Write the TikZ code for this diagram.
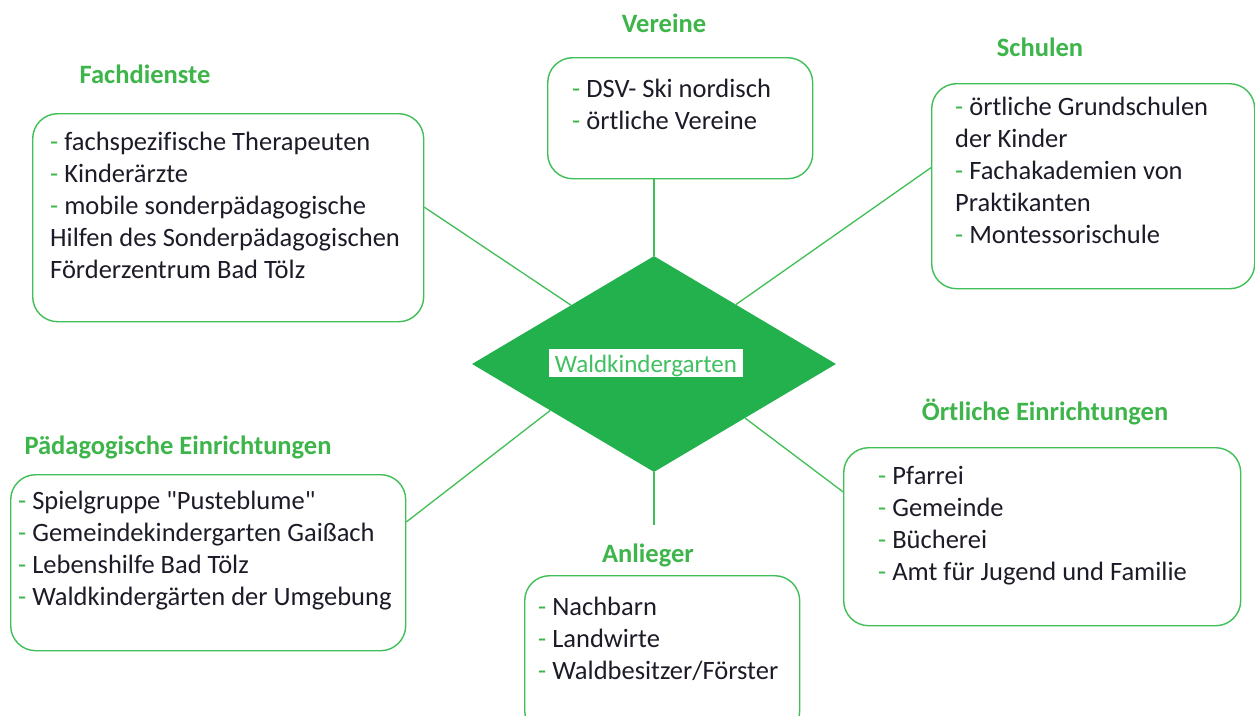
\documentclass[tikz,border=0pt]{standalone}
\usepackage{fontspec}
\setmainfont{Carlito}[Ligatures={CommonOff,TeXOff}]
\usetikzlibrary{shapes.geometric,calc}
\definecolor{dgreen}{HTML}{22B14C}
\definecolor{bgreen}{HTML}{3FBF55}
\definecolor{tgreen}{HTML}{3DB54A}
\definecolor{lgreen}{HTML}{40C060}
\definecolor{txt}{HTML}{1C1C28}
\newcommand\gd{\textcolor{tgreen}{-}}
\tikzset{
  box/.style={draw=bgreen, line width=1.4pt, rounded corners=25pt, minimum width=#1, inner sep=0, anchor=north west},
  listtext/.style={inner sep=0, align=left, anchor=north west, text=txt, font=\fontsize{26.5}{32}\selectfont},
  title/.style={inner sep=0, anchor=base, text=tgreen, font=\fontsize{26.5}{32}\selectfont\bfseries},
  conn/.style={draw=bgreen, line width=1.3pt}
}
\begin{document}
\begin{tikzpicture}[x=1pt,y=-1pt]
\useasboundingbox[fill=white] (0,0) rectangle (1255,715);
% central diamond
\node[diamond, fill=dgreen, minimum width=364pt, minimum height=216pt, inner sep=0] (dia) at (654,364) {};
\node[fill=white, text=lgreen, inner xsep=5.5pt, inner ysep=3pt, text height=20pt, text depth=2pt, anchor=base, font=\fontsize{25}{30}\selectfont] (lab) at (646,372) {Waldkindergarten};
% boxes
\node[box=391pt, minimum height=208pt] (fach) at (32,113) {};
\node[box=265pt, minimum height=121pt] (ver) at (547,57) {};
\node[box=323pt, minimum height=205pt] (sch) at (931,83) {};
\node[box=395pt, minimum height=176pt] (pad) at (10,474) {};
\node[box=275pt, minimum height=160pt] (anl) at (524,575) {};
\node[box=397pt, minimum height=178pt] (ort) at (843,447) {};
% titles
\node[title] (tfach) at (145,83) {Fachdienste};
\node[title] (tver) at (664,32) {Vereine};
\node[title] (tsch) at (1040,56) {Schulen};
\node[title] (tpad) at (178,454) {Pädagogische Einrichtungen};
\node[title] (tanl) at (648,562) {Anlieger};
\node[title] (tort) at (1045,420) {Örtliche Einrichtungen};
% list texts
\node[listtext] (lfach) at (50,128) {\rule{0pt}{22pt}\gd{} fachspezifische Therapeuten\\\gd{} Kinderärzte\\\gd{} mobile sonderpädagogische\\Hilfen des Sonderpädagogischen\\Förderzentrum Bad Tölz};
\node[listtext] (lver) at (572,75) {\rule{0pt}{22pt}\gd{} DSV- Ski nordisch\\\gd{} örtliche Vereine};
\node[listtext] (lsch) at (955,93) {\rule{0pt}{22pt}\gd{} örtliche Grundschulen\\der Kinder\\\gd{} Fachakademien von\\Praktikanten\\\gd{} Montessorischule};
\node[listtext] (lpad) at (18,487) {\rule{0pt}{22pt}\gd{} Spielgruppe "Pusteblume"\\\gd{} Gemeindekindergarten Gaißach\\\gd{} Lebenshilfe Bad Tölz\\\gd{} Waldkindergärten der Umgebung};
\node[listtext] (lanl) at (538,593) {\rule{0pt}{22pt}\gd{} Nachbarn\\\gd{} Landwirte\\\gd{} Waldbesitzer/Förster};
\node[listtext] (lort) at (878,462) {\rule{0pt}{22pt}\gd{} Pfarrei\\\gd{} Gemeinde\\\gd{} Bücherei\\\gd{} Amt für Jugend und Familie};
% connectors
\coordinate (anlend) at (654,525);
\draw[conn] ($(fach.north east)!0.45!(fach.south east)$) -- ($(dia.north)!0.456!(dia.west)$);
\draw[conn] (dia.north |- ver.south) -- (dia.north);
\draw[conn] ($(sch.north west)!0.41!(sch.south west)$) -- ($(dia.north)!0.45!(dia.east)$);
\draw[conn] ($(pad.north east)!0.27!(pad.south east)$) -- ($(dia.south)!0.57!(dia.west)$);
\draw[conn] (dia.south) -- (anlend);
\draw[conn] ($(dia.south)!0.5!(dia.east)$) -- ($(ort.north west)!0.25!(ort.south west)$);
\end{tikzpicture}
\end{document}
